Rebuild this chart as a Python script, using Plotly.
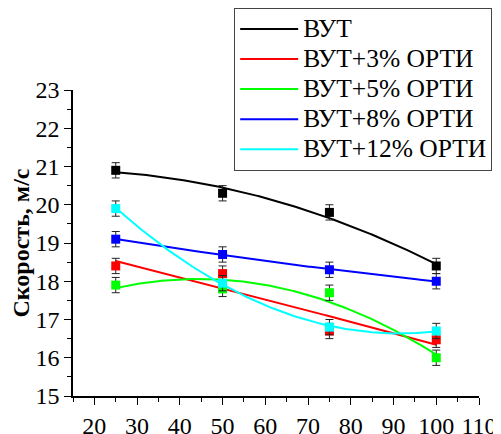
import numpy as np
import plotly.graph_objects as go

x_vals = [25, 50, 75, 100]
names = ["ВУТ", "ВУТ+3% ОРТИ", "ВУТ+5% ОРТИ", "ВУТ+8% ОРТИ", "ВУТ+12% ОРТИ"]
vut = [20.9, 20.3, 19.8, 18.4]
vut3 = [18.4, 18.2, 16.7, 16.47]
vut5 = [17.9, 17.8, 17.7, 16.0]
vut8 = [19.1, 18.7, 18.3, 18.0]
vut12 = [19.9, 17.95, 16.8, 16.7]
err = [0.2, 0.2, 0.2, 0.2]
colors = ["#000000", "#FF0000", "#00FF00", "#0000FF", "#00FFFF"]
x_ticks = [20, 30, 40, 50, 60, 70, 80, 90, 100, 110]
y_ticks = [15, 16, 17, 18, 19, 20, 21, 22, 23]

series = [vut, vut3, vut5, vut8, vut12]
font = "Liberation Serif"

fig = go.Figure()
xs = np.linspace(min(x_vals), max(x_vals), 200)
for name, ys, col in zip(names, series, colors):
    coef = np.polyfit(x_vals, ys, 2)
    fig.add_trace(go.Scatter(
        x=xs, y=np.polyval(coef, xs), mode="lines",
        name=f'<span style="font-size:25.5px">{name}</span>',
        line=dict(color=col, width=2), showlegend=True))
for name, ys, col in zip(names, series, colors):
    fig.add_trace(go.Scatter(
        x=x_vals, y=ys, mode="markers", name=name, showlegend=False,
        marker=dict(symbol="square", size=9, color=col),
        error_y=dict(type="data", array=err, visible=True, color="#222222",
                     thickness=1, width=4)))

axis_common = dict(
    showline=True, linecolor="black", linewidth=1.5, showgrid=False,
    zeroline=False, ticks="outside", ticklen=7, tickwidth=1.2, tickcolor="black",
    tickfont=dict(family=font, size=24, color="black"), mirror=False,
)
fig.update_xaxes(range=[15, 110], tickvals=x_ticks,
                 minor=dict(ticks="outside", ticklen=4, tickwidth=1, dtick=5, tick0=15, tickcolor="black"),
                 **axis_common)
fig.update_yaxes(range=[15, 23], tickvals=y_ticks,
                 minor=dict(ticks="outside", ticklen=4, tickwidth=1, dtick=0.5, tick0=15, tickcolor="black"),
                 title=dict(text="<b>Скорость, м/с</b>", font=dict(family=font, size=24, color="black"), standoff=6),
                 **axis_common)

fig.update_layout(
    width=493, height=426,
    margin=dict(l=65, r=22, t=82, b=38, autoexpand=False),
    plot_bgcolor="white", paper_bgcolor="white",
    font=dict(family=font),
    legend=dict(x=0.397, y=1.268, xanchor="left", yanchor="top",
                bgcolor="white", bordercolor="#444444", borderwidth=1,
                font=dict(family=font, size=20.8, color="black"),
                itemwidth=58),
)
fig.write_html("out.html")
